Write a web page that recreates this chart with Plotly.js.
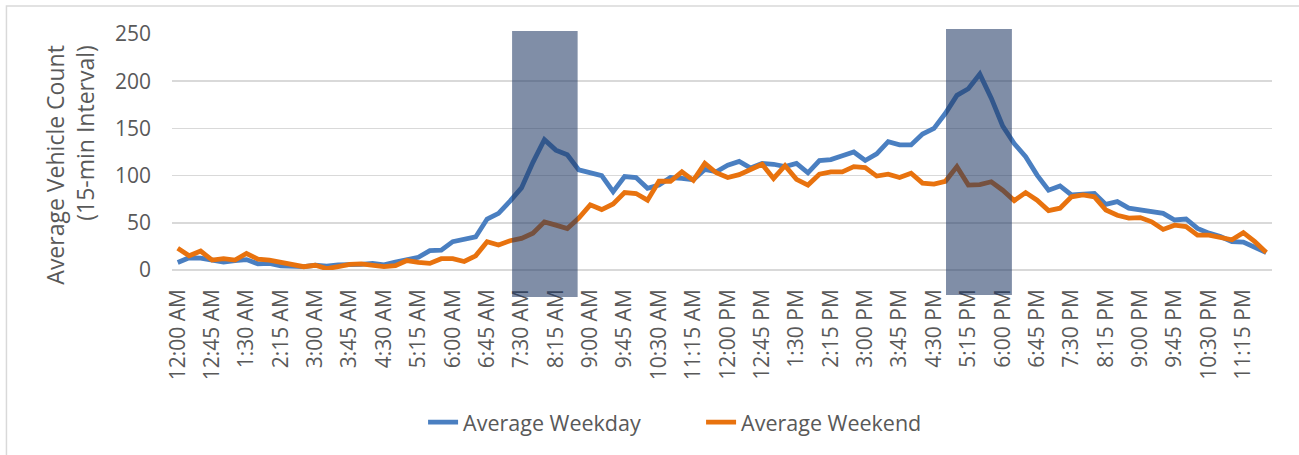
<!DOCTYPE html>
<html>
<head>
<meta charset="utf-8">
<script src="https://cdn.plot.ly/plotly-3.0.1.min.js"></script>
<style>
html,body{margin:0;padding:0;background:#fff;}
#chart{width:1299px;height:455px;}
</style>
</head>
<body>
<div id="chart"></div>
<script>
const times = [
"12:00 AM","12:15 AM","12:30 AM","12:45 AM","1:00 AM","1:15 AM","1:30 AM","1:45 AM",
"2:00 AM","2:15 AM","2:30 AM","2:45 AM","3:00 AM","3:15 AM","3:30 AM","3:45 AM",
"4:00 AM","4:15 AM","4:30 AM","4:45 AM","5:00 AM","5:15 AM","5:30 AM","5:45 AM",
"6:00 AM","6:15 AM","6:30 AM","6:45 AM","7:00 AM","7:15 AM","7:30 AM","7:45 AM",
"8:00 AM","8:15 AM","8:30 AM","8:45 AM","9:00 AM","9:15 AM","9:30 AM","9:45 AM",
"10:00 AM","10:15 AM","10:30 AM","10:45 AM","11:00 AM","11:15 AM","11:30 AM","11:45 AM",
"12:00 PM","12:15 PM","12:30 PM","12:45 PM","1:00 PM","1:15 PM","1:30 PM","1:45 PM",
"2:00 PM","2:15 PM","2:30 PM","2:45 PM","3:00 PM","3:15 PM","3:30 PM","3:45 PM",
"4:00 PM","4:15 PM","4:30 PM","4:45 PM","5:00 PM","5:15 PM","5:30 PM","5:45 PM",
"6:00 PM","6:15 PM","6:30 PM","6:45 PM","7:00 PM","7:15 PM","7:30 PM","7:45 PM",
"8:00 PM","8:15 PM","8:30 PM","8:45 PM","9:00 PM","9:15 PM","9:30 PM","9:45 PM",
"10:00 PM","10:15 PM","10:30 PM","10:45 PM","11:00 PM","11:15 PM","11:30 PM","11:45 PM"
];

const tickLabels = [
"12:00 AM","12:45 AM","1:30 AM","2:15 AM","3:00 AM","3:45 AM","4:30 AM","5:15 AM",
"6:00 AM","6:45 AM","7:30 AM","8:15 AM","9:00 AM","9:45 AM","10:30 AM","11:15 AM",
"12:00 PM","12:45 PM","1:30 PM","2:15 PM","3:00 PM","3:45 PM","4:30 PM","5:15 PM",
"6:00 PM","6:45 PM","7:30 PM","8:15 PM","9:00 PM","9:45 PM","10:30 PM","11:15 PM"
];

const weekday = [
8,13,12.5,10.5,8.5,10,11,6.5,7,4.5,4,3.5,5,4,5.5,5.5,
6,7,5.5,8.5,11.5,13.5,20.5,21,30,32,35,54,60,73,87,114,
138,127,122,106,103,100,83,99,98,86.5,90,98,97,95.5,106.5,104,
111,115,108,113,112,109.5,113,103,116,117,121,125,116,123,136,132.5,
132.5,144,150,166,185,192,207.5,182,152.5,134,120,100.5,84.5,89,79.5,80.5,
81,69.5,72.5,65.5,63.5,62,60,53,54,44,39,35.5,30,29.5,24.5,18.5
];

const weekend = [
23,15,20,10.5,12,10.5,17.5,11.5,10.5,8,6.5,3.5,5,1.5,3.5,6,
6.5,5.5,3.5,4.5,10,8,7,12,12,9,15,30,26.5,31,33.5,39,
51,47.5,44,55,69,64,70,82,81,74,94,94,104,95,113,103,
98,101,107,112,97,110.5,96,90,101.5,104,104,109.5,108.5,99.5,101.5,98,
102.5,92,91,94,109.5,90,90.5,93.5,84.5,73.5,82,74,63,65.5,77.5,79.5,
77.5,63.5,58,55,55.5,51,43,47.5,46,37,37,34.5,32,39.5,30,18.5
];

const seriesNames = ["Average Weekday","Average Weekend"];
const peakWindows = [[29.18, 34.9], [67.05, 72.8]];

const font = "Open Sans, sans-serif";
const grey = "#595959";

const traces = [
  {x: times, y: weekday, type: "scatter", mode: "lines", name: seriesNames[0],
   line: {color: "#4a7fc1", width: 4.8}, hoverinfo: "skip"},
  {x: times, y: weekend, type: "scatter", mode: "lines", name: seriesNames[1],
   line: {color: "#e8720e", width: 4.8}, hoverinfo: "skip"}
];

const shapes = [
  {type: "rect", xref: "x", yref: "paper", x0: peakWindows[0][0], x1: peakWindows[0][1],
   y0: -0.114, y1: 1.0127, fillcolor: "rgba(31,56,100,0.57)", line: {width: 0}, layer: "above"},
  {type: "rect", xref: "x", yref: "paper", x0: peakWindows[1][0], x1: peakWindows[1][1],
   y0: -0.106, y1: 1.021, fillcolor: "rgba(31,56,100,0.57)", line: {width: 0}, layer: "above"},
  {type: "rect", xref: "paper", yref: "paper", x0: -0.1505, x1: 1.04, y0: -0.85, y1: 1.1186,
   fillcolor: "rgba(0,0,0,0)", line: {color: "#d9d9d9", width: 1.5}, layer: "below"}
];

const layout = {
  width: 1299, height: 455,
  margin: {l: 172, r: 27, t: 34, b: 185},
  paper_bgcolor: "#ffffff", plot_bgcolor: "#ffffff",
  font: {family: font, color: grey, size: 21},
  showlegend: true,
  legend: {orientation: "h", xref: "container", yref: "container",
           x: 0.5397, xanchor: "center", y: 0.072, yanchor: "middle",
           font: {family: font, size: 21.5, color: grey},
           entrywidth: 233, entrywidthmode: "pixels", itemgap: 0,
           bgcolor: "rgba(0,0,0,0)"},
  xaxis: {type: "category", range: [-0.5, 95.5], tickmode: "array",
          tickvals: tickLabels, ticktext: tickLabels, tickangle: -90,
          showgrid: false, zeroline: false, showline: false, ticks: "",
          ticklabelstandoff: 14, tickfont: {family: font, size: 21, color: grey},
          fixedrange: true},
  yaxis: {range: [0, 250], tickvals: [0, 50, 100, 150, 200, 250],
          showgrid: true, gridcolor: "#d9d9d9", gridwidth: 1.5,
          zeroline: true, zerolinecolor: "#d9d9d9", zerolinewidth: 1.5,
          showline: false, ticks: "", ticklabelstandoff: 20,
          tickfont: {family: font, size: 21, color: grey}, fixedrange: true},
  annotations: [
    {text: "Average Vehicle Count<br>(15-min Interval)", xref: "paper", yref: "paper",
     x: -0.0935, y: 0.447, xanchor: "center", yanchor: "middle", textangle: -90,
     align: "right", showarrow: false, font: {family: font, size: 23, color: grey}}
  ],
  shapes: shapes
};

Plotly.newPlot("chart", traces, layout, {displayModeBar: false, staticPlot: true});
</script>
</body>
</html>
